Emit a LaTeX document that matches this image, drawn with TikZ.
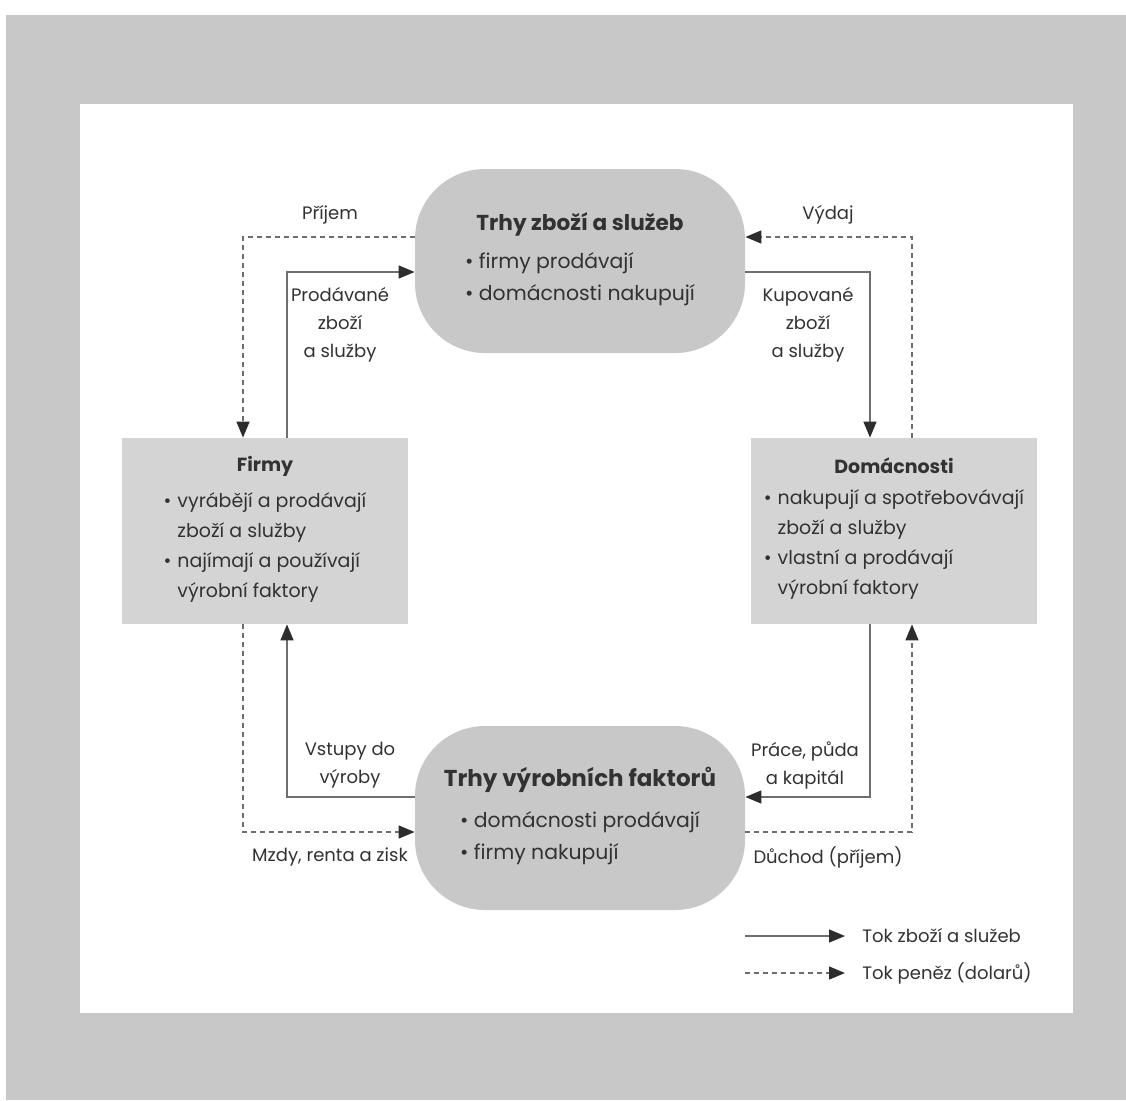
\documentclass[tikz,border=0pt]{standalone}
\usepackage{fontspec}
\setmainfont{Poppins}
\usetikzlibrary{arrows.meta,positioning}

\definecolor{bggray}{RGB}{200,200,200}
\definecolor{boxgray}{RGB}{212,212,212}
\definecolor{ovalgray}{RGB}{200,200,200}
\definecolor{inkgray}{RGB}{50,50,50}
\definecolor{linegray}{RGB}{110,110,110}
\definecolor{tipgray}{RGB}{45,45,45}

\tikzset{
  market/.style={fill=ovalgray, rounded corners=35pt, minimum width=165pt,
    minimum height=92pt, inner sep=0pt, text=inkgray, align=center,
    font=\fontsize{10.2}{16}\selectfont},
  agent/.style={fill=boxgray, minimum width=143pt, minimum height=93pt,
    inner sep=0pt, text=inkgray, align=center,
    font=\fontsize{9.5}{15}\selectfont},
  goods/.style={draw=linegray, line width=0.7pt,
    -{Triangle[length=8pt,width=6.5pt,color=tipgray]}},
  money/.style={goods, dash pattern=on 2.5pt off 2pt},
  flowlabel/.style={text=inkgray, align=center, inner sep=0pt,
    font=\fontsize{9}{14}\selectfont},
}

\begin{document}
\begin{tikzpicture}[x=0.5pt, y=-0.5pt]

% -----------------------------
% Page and panel
% -----------------------------
\fill[white] (0,0) rectangle (1126,1100);
\fill[bggray] (6,15) rectangle (1126,1100);
\fill[white] (80,104) rectangle (1073,1013);

% -----------------------------
% Markets and agents
% -----------------------------
\node[market] (goodsmkt) at (580,261) {{\fontsize{10.8}{16}\selectfont\textbf{Trhy zboží a služeb}}\\[4pt]
  \begin{tabular}{@{}l@{}}• firmy prodávají\\ • domácnosti nakupují\end{tabular}};
\node[market] (factmkt) at (580,818) {{\fontsize{11.5}{16}\selectfont\textbf{Trhy výrobních faktorů}}\\[5pt]
  \begin{tabular}{@{}l@{}}• domácnosti prodávají\\ • firmy nakupují\end{tabular}};

\node[agent] (firms) at (265,531) {\textbf{Firmy}\\[4pt]
  \begin{tabular}{@{}l@{\hspace{3pt}}l@{}}
  • & vyrábějí a prodávají\\ & zboží a služby\\
  • & najímají a používají\\ & výrobní faktory
  \end{tabular}};
\node[agent] (homes) at (894,531) {\textbf{Domácnosti}\\[4pt]
  \begin{tabular}{@{}l@{\hspace{3pt}}l@{}}
  • & nakupují a spotřebovávají\\ & zboží a služby\\
  • & vlastní a prodávají\\ & výrobní faktory
  \end{tabular}};

% -----------------------------
% Flow of goods (inner loop)
% -----------------------------
\draw[goods] ([xshift=11pt]firms.north) |- ([yshift=-5.5pt]goodsmkt.west);
\draw[goods] ([yshift=-5.5pt]goodsmkt.east) -| ([xshift=-12pt]homes.north);
\draw[goods] ([xshift=-12pt]homes.south) |- ([yshift=10.5pt]factmkt.east);
\draw[goods] ([yshift=10.5pt]factmkt.west) -| ([xshift=11pt]firms.south);

% -----------------------------
% Flow of money (outer loop)
% -----------------------------
\draw[money] ([yshift=12pt]goodsmkt.west) -| ([xshift=-11pt]firms.north);
\draw[money] ([xshift=9pt]homes.north) |- ([yshift=12pt]goodsmkt.east);
\draw[money] ([xshift=-11pt]firms.south) |- ([yshift=-7pt]factmkt.west);
\draw[money] ([yshift=-7pt]factmkt.east) -| ([xshift=9pt]homes.south);

% labels on the flows
\node[flowlabel] (income) at (330,215) {Příjem};
\node[flowlabel] (spending) at (828,215) {Výdaj};
\node[flowlabel] (soldgoods) at (340,325) {Prodávané\\zboží\\a služby};
\node[flowlabel] (boughtgoods) at (808,325) {Kupované\\zboží\\a služby};
\node[flowlabel] (inputs) at (350,765) {Vstupy do\\výroby};
\node[flowlabel] (factors) at (805,765) {Práce, půda\\a kapitál};
\node[flowlabel] (wages) at (330,857) {Mzdy, renta a zisk};
\node[flowlabel] (earnings) at (828,857) {Důchod (příjem)};

% -----------------------------
% Legend
% -----------------------------
\coordinate (keygoods) at (745,936);
\coordinate (keymoney) at (745,973);
\node[flowlabel, anchor=west] (keygoodstext) at (862,936) {Tok zboží a služeb};
\node[flowlabel, anchor=west] (keymoneytext) at (862,973) {Tok peněz (dolarů)};
\draw[goods, shorten >=8.5pt] (keygoods) -- (keygoodstext.west);
\draw[money, shorten >=8.5pt] (keymoney) -- (keymoneytext.west);

\end{tikzpicture}
\end{document}
